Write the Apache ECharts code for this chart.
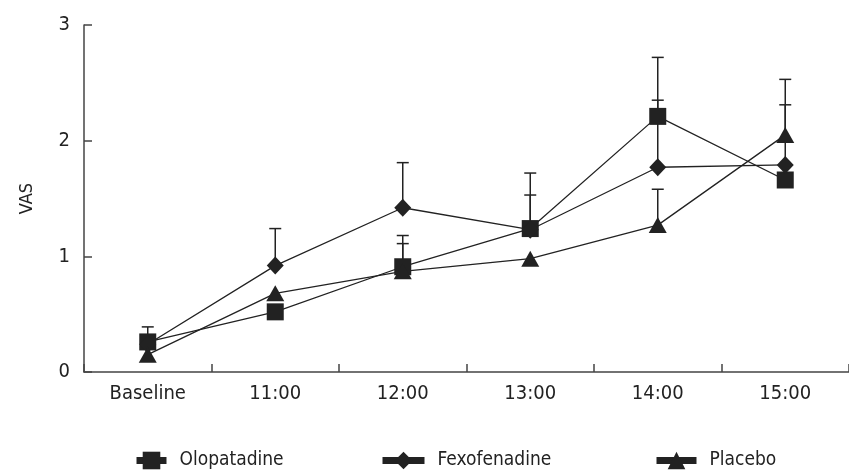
<!DOCTYPE html>
<html>
<head>
<meta charset="utf-8">
<script src="https://cdn.jsdelivr.net/npm/echarts@6/dist/echarts.min.js"></script>
<style>
  html, body { margin: 0; padding: 0; background: #fff; }
  #main { width: 849px; height: 472px; }
</style>
</head>
<body>
<div id="main"></div>
<script>
  // 数据
  var categories = ['Baseline', '11:00', '12:00', '13:00', '14:00', '15:00'];
  var yTicks = [0, 1, 2, 3];

  var olopatadine = [0.26, 0.52, 0.91, 1.24, 2.21, 1.66];
  var olopatadineUpper = [0.39, null, 1.18, 1.72, 2.72, null];

  var fexofenadine = [0.24, 0.92, 1.42, 1.23, 1.77, 1.79];
  var fexofenadineUpper = [null, 1.24, 1.81, 1.53, 2.35, 2.31];

  var placebo = [0.15, 0.68, 0.87, 0.98, 1.27, 2.05];
  var placeboUpper = [null, null, 1.11, null, 1.58, 2.53];

  var ink = '#222';
  var font = '"Liberation Sans Narrow", "DejaVu Sans Condensed", "Liberation Sans", sans-serif';

  // 误差线（只画上半部分）
  function errorSeries(name, values, upper) {
    var data = [];
    for (var i = 0; i < values.length; i++) {
      if (upper[i] != null) data.push([i, values[i], upper[i]]);
    }
    return {
      name: name + ' SD',
      type: 'custom',
      z: 1,
      silent: true,
      renderItem: function (params, api) {
        var p0 = api.coord([api.value(0), api.value(1)]);
        var p1 = api.coord([api.value(0), api.value(2)]);
        var hw = 6;
        return {
          type: 'group',
          children: [
            { type: 'line', shape: { x1: p0[0], y1: p0[1], x2: p1[0], y2: p1[1] },
              style: { stroke: ink, lineWidth: 1.5 } },
            { type: 'line', shape: { x1: p1[0] - hw, y1: p1[1], x2: p1[0] + hw, y2: p1[1] },
              style: { stroke: ink, lineWidth: 1.5 } }
          ]
        };
      },
      encode: { x: 0, y: [1, 2] },
      data: data
    };
  }

  function lineSeries(name, values, symbol, size) {
    return {
      name: name,
      type: 'line',
      z: 3,
      data: values,
      symbol: symbol,
      symbolSize: size,
      showAllSymbol: true,
      color: ink,
      lineStyle: { color: ink, width: 1.3 },
      itemStyle: { color: ink, borderWidth: 0 },
      emphasis: { disabled: true }
    };
  }

  function legendAt(name, left, width) {
    return {
      data: [name],
      left: left,
      top: 446,
      itemWidth: width,
      itemHeight: 22,
      lineStyle: { width: 7, color: ink },
      itemStyle: { color: ink },
      textStyle: { fontFamily: font, fontSize: 19, color: ink, padding: [0, 0, 0, 8] }
    };
  }

  var myChart = echarts.init(document.getElementById('main'));

  var option = {
    animation: false,
    backgroundColor: '#fff',
    grid: { left: 84, top: 25, width: 771, height: 347, containLabel: false },
    legend: [
      legendAt('Olopatadine', 128, 30),
      legendAt('Fexofenadine', 374, 42),
      legendAt('Placebo', 648, 40)
    ],
    xAxis: {
      type: 'category',
      data: categories,
      boundaryGap: true,
      axisLine: { lineStyle: { color: '#444', width: 1.5 } },
      axisTick: { show: true, interval: 0, inside: true, length: 8, lineStyle: { color: '#444', width: 1.5 } },
      axisLabel: { margin: 12, fontFamily: font, fontSize: 20, color: ink },
      splitLine: { show: false }
    },
    yAxis: {
      type: 'value',
      min: yTicks[0],
      max: yTicks[yTicks.length - 1],
      interval: 1,
      name: 'VAS',
      nameLocation: 'middle',
      nameGap: 48,
      nameTextStyle: { fontFamily: font, fontSize: 18, color: ink },
      axisLine: { show: true, lineStyle: { color: '#444', width: 1.5 } },
      axisTick: { show: true, inside: true, length: 8, lineStyle: { color: '#444', width: 1.5 } },
      axisLabel: { margin: 14, fontFamily: font, fontSize: 20, color: ink },
      splitLine: { show: false }
    },
    series: [
      errorSeries('Olopatadine', olopatadine, olopatadineUpper),
      errorSeries('Fexofenadine', fexofenadine, fexofenadineUpper),
      errorSeries('Placebo', placebo, placeboUpper),
      lineSeries('Olopatadine', olopatadine, 'rect', 17),
      lineSeries('Fexofenadine', fexofenadine, 'diamond', [17, 18]),
      lineSeries('Placebo', placebo, 'triangle', [18, 16])
    ]
  };

  myChart.setOption(option);
</script>
</body>
</html>
